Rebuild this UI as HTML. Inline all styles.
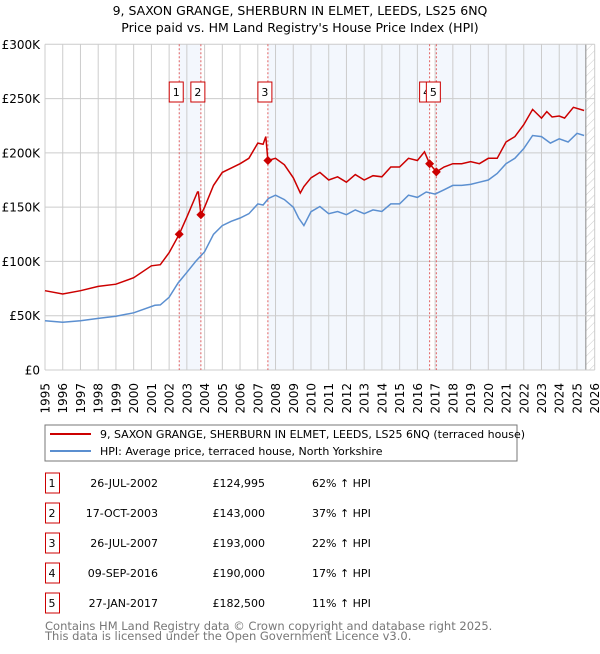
<!DOCTYPE html>
<html><head><meta charset="utf-8"><style>
body{margin:0;background:#fff;font-family:"DejaVu Sans","Liberation Sans",sans-serif}
#wrap{position:relative;width:600px;height:650px}
svg text{font-family:"DejaVu Sans","Liberation Sans",sans-serif}
</style></head><body><div id="wrap">
<svg id="svg" width="600" height="650" xmlns="http://www.w3.org/2000/svg">
<defs><pattern id="hatch" width="6" height="6" patternUnits="userSpaceOnUse" patternTransform="rotate(45)"><line x1="0" y1="0" x2="0" y2="6" stroke="#ccc" stroke-width="1"/></pattern></defs>
<text x="300" y="15" text-anchor="middle" font-size="12.5">9, SAXON GRANGE, SHERBURN IN ELMET, LEEDS, LS25 6NQ</text>
<text x="300" y="32" text-anchor="middle" font-size="12.5">Price paid vs. HM Land Registry's House Price Index (HPI)</text>
<g id="plot"></g>
<rect x="45" y="425" width="472" height="36" fill="#fff" stroke="#777"/>
<line x1="50" y1="434" x2="91" y2="434" stroke="#cc0000" stroke-width="2"/>
<text x="100" y="438" font-size="11">9, SAXON GRANGE, SHERBURN IN ELMET, LEEDS, LS25 6NQ (terraced house)</text>
<line x1="50" y1="451" x2="91" y2="451" stroke="#5b8fd0" stroke-width="2"/>
<text x="100" y="455" font-size="11">HPI: Average price, terraced house, North Yorkshire</text>
<g id="table"></g>
<text x="45" y="630" font-size="11.5" fill="#777">Contains HM Land Registry data © Crown copyright and database right 2025.</text>
<text x="45" y="640" font-size="11.5" fill="#777">This data is licensed under the Open Government Licence v3.0.</text>
</svg></div>
<script>
const hpiYears=[1995,1996,1997,1998,1999,2000,2001.2,2001.5,2002,2002.5,2003,2003.5,2004,2004.5,2005,2005.5,2006,2006.5,2007,2007.3,2007.6,2008,2008.5,2009,2009.3,2009.6,2010,2010.5,2011,2011.5,2012,2012.5,2013,2013.5,2014,2014.5,2015,2015.5,2016,2016.5,2017,2017.5,2018,2018.5,2019,2019.5,2020,2020.5,2021,2021.5,2022,2022.5,2023,2023.5,2024,2024.5,2025,2025.4];
const hpiValues=[45.4,44,45.4,47.5,49.6,52.7,59.6,60,67,80,90,100,109,125,133,137,140,144,153,152,158,161,157,150,140,133,145.8,150.6,144,146,143,147.5,144,147.5,146,153,153,161,159,164,162,166,170,170,171,173,175,181,190,195,204,216,215,209,213,210,218,216];
const redYears=[1995,1996,1997,1998,1999,2000,2001,2001.5,2002,2002.57,2003,2003.6,2003.65,2003.79,2004,2004.5,2005,2005.5,2006,2006.5,2007,2007.3,2007.45,2007.57,2008,2008.5,2009,2009.4,2009.6,2010,2010.5,2011,2011.5,2012,2012.5,2013,2013.5,2014,2014.5,2015,2015.5,2016,2016.4,2016.69,2017.07,2017.5,2018,2018.5,2019,2019.5,2020,2020.5,2021,2021.5,2022,2022.5,2023,2023.3,2023.6,2024,2024.3,2024.8,2025.4];
const redValues=[73,70,73,77,79,85,96,97,108,125,141,164,164,143,150,170,182,186,190,195,209,208,215,193,195,189,177,163,169,177,182,175,178,173,180,175,179,178,187,187,195,193,201,190,182.5,187,190,190,192,190,195,195,210,215,226,240,232,238,233,234,232,242,239];
const saleLabels=["1","2","3","4","5"];
const saleDates=["26-JUL-2002","17-OCT-2003","26-JUL-2007","09-SEP-2016","27-JAN-2017"];
const saleYears=[2002.57,2003.79,2007.57,2016.69,2017.07];
const salePrices=[124995,143000,193000,190000,182500];
const salePriceLabels=["£124,995","£143,000","£193,000","£190,000","£182,500"];
const saleHpi=["62% ↑ HPI","37% ↑ HPI","22% ↑ HPI","17% ↑ HPI","11% ↑ HPI"];
const yTicks=[0,50,100,150,200,250,300];
const yTickLabels=["£0","£50K","£100K","£150K","£200K","£250K","£300K"];
const xTicks=[];for(let y=1995;y<=2026;y++)xTicks.push(y);

const NS="http://www.w3.org/2000/svg";
const X0=45,X1=594.7,Y0=370,Y1=44.3;
const xs=y=>X0+(y-1995)/(2026-1995)*(X1-X0);
const ys=v=>Y0-v/300*(Y0-Y1);
function mk(tag,attrs,parent){const e=document.createElementNS(NS,tag);for(const k in attrs)e.setAttribute(k,attrs[k]);parent.appendChild(e);return e;}
const plot=document.getElementById('plot');
let r;
r=mk('rect',{x:xs(saleYears[0]),y:Y1,width:xs(saleYears[1])-xs(saleYears[0]),height:Y0-Y1,fill:'#eef3fc',opacity:0.7},plot);


r=mk('rect',{x:xs(saleYears[2]),y:Y1,width:xs(saleYears[3])-xs(saleYears[2]),height:Y0-Y1,fill:'#eef3fc',opacity:0.7},plot);


r=mk('rect',{x:xs(saleYears[4]),y:Y1,width:xs(2025.5)-xs(saleYears[4]),height:Y0-Y1,fill:'#eef3fc',opacity:0.7},plot);


r=mk('rect',{x:xs(2025.5),y:Y1,width:X1-xs(2025.5),height:Y0-Y1,fill:'url(#hatch)'},plot);


r=mk('line',{x1:xs(2025.5),y1:Y1,x2:xs(2025.5),y2:Y0,stroke:'#888'},plot);


xTicks.forEach(t=>{const g=mk('line',{x1:xs(t),y1:Y1,x2:xs(t),y2:Y0,stroke:'#ccc','stroke-width':1},plot);


const tx=mk('text',{x:0,y:0,'font-size':12,'text-anchor':'end',transform:`translate(${xs(t)+4.5},383) rotate(-90)`},plot);tx.textContent=t;

});
yTicks.forEach((t,i)=>{const g=mk('line',{x1:X0,y1:ys(t),x2:X1,y2:ys(t),stroke:'#ccc','stroke-width':1},plot);


const tx=mk('text',{x:40,y:ys(t)+4.5,'font-size':12,'text-anchor':'end'},plot);tx.textContent=yTickLabels[i];

});
saleYears.forEach((s,i)=>{const l=mk('line',{x1:xs(s),y1:Y1,x2:xs(s),y2:Y0,stroke:'#e06060','stroke-dasharray':'2,2','stroke-width':1},plot);

});
const path=(xa,va)=>xa.map((y,i)=>(i?'L':'M')+xs(y).toFixed(1)+','+ys(va[i]).toFixed(1)).join('');
let p=mk('path',{d:path(hpiYears,hpiValues),fill:'none',stroke:'#5b8fd0','stroke-width':1.5},plot);


p=mk('path',{d:path(redYears,redValues),fill:'none',stroke:'#cc0000','stroke-width':1.5},plot);


saleYears.forEach((s,i)=>{const x=xs(s),y=ys(salePrices[i]/1000);
const m=mk('path',{d:`M${x-4.5},${y}L${x},${y-4.5}L${x+4.5},${y}L${x},${y+4.5}Z`,fill:'#cc0000'},plot);


const b=mk('rect',{x:x-10,y:82,width:14,height:20,fill:'#fff',stroke:'#cc0000'},plot);


const t=mk('text',{x:x-3,y:96,'font-size':11,'text-anchor':'middle'},plot);t.textContent=saleLabels[i];

});
const tb=document.getElementById('table');
saleLabels.forEach((lab,i)=>{const cy=483+i*30;
const b=mk('rect',{x:45.5,y:cy-10,width:14,height:20,fill:'#fff',stroke:'#cc0000'},tb);


const cells=[[52,'middle',lab,'row-number-'],[158,'end',saleDates[i],'row-date-'],[265,'end',salePriceLabels[i],'row-price-'],[312,'start',saleHpi[i],'row-hpi-']];
cells.forEach(c=>{const t=mk('text',{x:c[0],y:cy+4,'font-size':11,'text-anchor':c[1]},tb);t.textContent=c[2];

});});
</script></body></html>
